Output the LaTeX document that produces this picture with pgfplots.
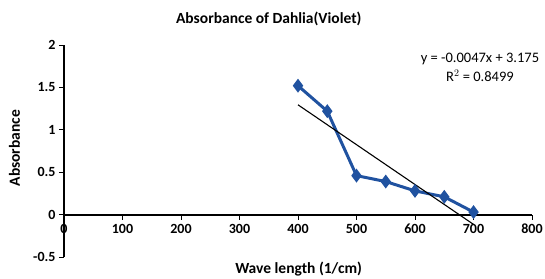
\documentclass[border=0pt]{standalone}
\usepackage{pgfplots}
\pgfplotsset{compat=1.18}
\usepackage{fontspec}
\setmainfont{Carlito}
\definecolor{ser}{RGB}{32,82,160}
\begin{document}
\begin{tikzpicture}
\begin{axis}[
  scale only axis, width=468pt, height=212pt,
  xmin=0, xmax=800, ymin=-0.5, ymax=2,
  axis x line=middle, axis y line=left,
  axis line style={-, line width=2.2pt, black},
  hide obscured x ticks=false,
  xtick={0,100,...,800}, ytick={-0.5,0,0.5,1,1.5,2},
  yticklabels={-0.5,0,0.5,1,1.5,2},
  tick align=outside, major tick length=5pt,
  tick style={black, line width=0.8pt},
  ticklabel style={font=\fontsize{14}{16}\selectfont\bfseries, text=black},
  /pgf/number format/assume math mode=true,
  xticklabel style={yshift=-1pt},
  clip=false,
]
\addplot[ser, line width=3pt, mark=diamond*, mark size=4.5pt, mark options={solid}] coordinates {
 (400,1.52) (450,1.22) (500,0.46) (550,0.39) (600,0.28) (650,0.21) (700,0.03)};
\addplot[black, line width=1.1pt] coordinates {(400,1.295) (700,-0.115)};
\node[font=\fontsize{15.5}{18}\selectfont\bfseries] at (axis cs:350,2.307) {Absorbance of Dahlia(Violet)};
\node[font=\fontsize{14.5}{17}\selectfont] at (axis cs:711,1.84) {y = -0.0047x + 3.175};
\node[font=\fontsize{14.5}{17}\selectfont] at (axis cs:711,1.635) {R$^{2}$ = 0.8499};
\node[font=\fontsize{15.5}{18}\selectfont\bfseries] at (axis cs:401,-0.637) {Wave length (1/cm)};
\node[font=\fontsize{15.5}{18}\selectfont\bfseries, rotate=90] at (axis cs:-84.6,0.785) {Absorbance};
\coordinate (bl) at (axis cs:-109.4,-0.749);
\coordinate (tr) at (axis cs:822.2,2.531);
\end{axis}
\pgfresetboundingbox
\path (bl) rectangle (tr);
\end{tikzpicture}
\end{document}
